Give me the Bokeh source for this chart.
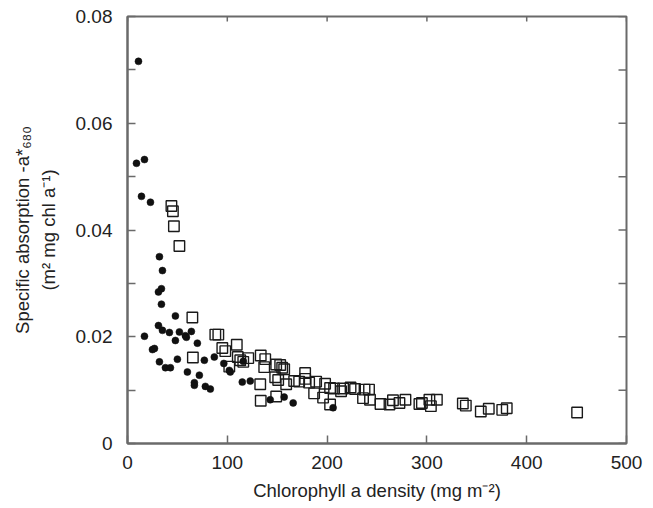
import math
from bokeh.plotting import figure
from bokeh.models import FixedTicker, Range1d
from bokeh.embed import file_html
from bokeh.resources import INLINE

# Filled circles
dots_x = [11, 9, 17, 14, 23, 32, 35, 34, 31, 34, 48, 31, 35, 42, 52, 58, 59, 64, 48, 17,
          70, 25, 27, 32, 38, 43, 50, 60, 72, 67, 67, 78, 83, 77, 87, 96.5, 102, 103, 115,
          123, 116, 143, 157, 166, 206]
dots_y = [0.0716, 0.0525, 0.0532, 0.0463, 0.0452, 0.0350, 0.0324, 0.0290, 0.0284, 0.0261,
          0.0239, 0.0221, 0.0212, 0.0208, 0.0209, 0.0202, 0.0199, 0.0210, 0.0193, 0.0201,
          0.0188, 0.0176, 0.0178, 0.0153, 0.0142, 0.0142, 0.0158, 0.0134, 0.0128, 0.0114,
          0.0109, 0.0107, 0.0102, 0.0156, 0.0162, 0.0150, 0.0137, 0.0134, 0.0115, 0.0117,
          0.0154, 0.0082, 0.0087, 0.0076, 0.0067]

# Open squares
sq_x = [44, 45.5, 46.5, 52, 65, 88, 91, 65.5, 95, 98, 109.5, 110.5, 113, 116, 121, 102,
        133.5, 138, 137, 133, 133.5, 149, 153, 155, 157, 148, 151, 159, 149, 167, 172, 178,
        178, 182, 189, 187, 196, 198, 203, 203, 207, 214, 216, 223.5, 228, 237.5, 242, 236,
        243, 253.5, 262.5, 266, 272.5, 278.5, 292.5, 295, 302.5, 304, 310, 336, 339, 354,
        362, 375.5, 380, 450.5]
sq_y = [0.0445, 0.0435, 0.0407, 0.0370, 0.0236, 0.0204, 0.0204, 0.0161, 0.0179, 0.0173,
        0.0185, 0.0162, 0.0156, 0.0153, 0.0160, 0.0144, 0.0165, 0.0158, 0.0143, 0.0111,
        0.0080, 0.0148, 0.0147, 0.0142, 0.0139, 0.0124, 0.0119, 0.0111, 0.0088, 0.0117,
        0.0116, 0.0132, 0.0121, 0.0114, 0.0116, 0.0094, 0.0086, 0.0112, 0.0073, 0.0104,
        0.0103, 0.0098, 0.0103, 0.0105, 0.0102, 0.0101, 0.0101, 0.0085, 0.0082, 0.0074,
        0.0073, 0.0081, 0.0076, 0.0082, 0.0074, 0.0076, 0.0082, 0.0070, 0.0082, 0.0075,
        0.0071, 0.0060, 0.0065, 0.0063, 0.0066, 0.0058]

x_ticks = [0, 100, 200, 300, 400, 500]
y_ticks = [0, 0.02, 0.04, 0.06, 0.08]
y_minor = [0.01, 0.03, 0.05, 0.07]
y_all = sorted(y_ticks + y_minor)

X_MAX = 500
Y_MAX = 0.08

FONT = "Liberation Sans"
AXC = "#6a6a6a"

p = figure(frame_width=499, frame_height=427, output_backend="svg", toolbar_location=None,
           x_range=Range1d(0, X_MAX), y_range=Range1d(0, Y_MAX),
           min_border_left=127, min_border_right=20, min_border_top=16, min_border_bottom=58)
p.outline_line_color = AXC
p.outline_line_width = 2
p.grid.visible = False
p.background_fill_color = "white"
p.border_fill_color = "white"


def style(ax, tick_in):
    ax.axis_line_color = AXC
    ax.axis_line_width = 2
    ax.major_tick_line_color = AXC
    ax.minor_tick_line_color = AXC
    ax.major_tick_line_width = 1.5
    ax.minor_tick_line_width = 1.5
    ax.major_tick_in = tick_in
    ax.major_tick_out = 0
    ax.minor_tick_in = tick_in
    ax.minor_tick_out = 0
    ax.major_label_text_font = FONT
    ax.major_label_text_color = "#222222"
    ax.major_label_text_font_size = "19px"
    ax.axis_label_text_font = FONT
    ax.axis_label_text_font_style = "normal"
    ax.axis_label_text_color = "#222222"
    ax.axis_label_text_font_size = "18.5px"


xb = p.xaxis[0]
xb.ticker = FixedTicker(ticks=x_ticks)
style(xb, 8)
xb.major_label_standoff = 12
xb.axis_label = "Chlorophyll a density (mg m\u207b\u00b2)"
xb.axis_label_standoff = 8

yl = p.yaxis[0]
yl.ticker = FixedTicker(ticks=y_ticks, minor_ticks=y_minor)
style(yl, 8)
yl.major_label_overrides = {0: "0"}
yl.major_label_standoff = 15
yl.axis_label = "Specific absorption -a*\u2086\u2088\u2080\n(m\u00b2 mg chl a\u207b\u00b9)"
yl.axis_label_standoff = 14

# inward ticks on the right and top frame edges
p.ray(x=[X_MAX] * len(y_all), y=y_all, length=8, length_units="screen", angle=math.pi,
      line_color=AXC, line_width=1.5)
p.ray(x=x_ticks, y=[Y_MAX] * len(x_ticks), length=5, length_units="screen", angle=-math.pi / 2,
      line_color=AXC, line_width=1.5)

p.scatter(sq_x, sq_y, marker="square", size=10.5, fill_color="white", fill_alpha=0,
          line_color="#1a1a1a", line_width=1.4)
p.scatter(dots_x, dots_y, marker="circle", size=7, fill_color="#111111", line_color="#111111",
          line_width=0.5)

open("out.html", "w").write(file_html(p, INLINE))
